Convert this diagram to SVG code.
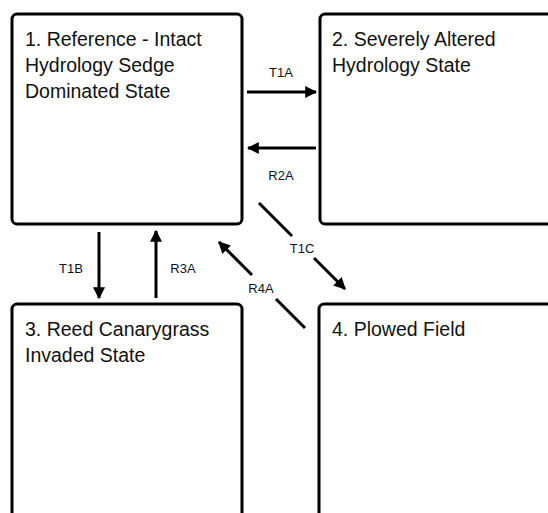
<svg xmlns="http://www.w3.org/2000/svg" width="548" height="513" viewBox="0 0 548 513">
<style>
.box{fill:#fff;stroke:#000;stroke-width:3}
.t{font-family:"Liberation Sans",Arial,sans-serif;font-size:19.5px;fill:#111}
.l{font-family:"Liberation Sans",Arial,sans-serif;font-size:13px;fill:#111;text-anchor:middle}
.c{fill:none;stroke:#000;stroke-width:3;marker-end:url(#ah)}
</style>
<defs>
<marker id="ah" viewBox="0 0 10 10" refX="9" refY="5" markerUnits="userSpaceOnUse" markerWidth="12" markerHeight="12" orient="auto">
<path d="M0,0 L10,5 L0,10 Z" fill="#000"/>
</marker>
</defs>
<rect width="548" height="513" fill="#fff"/>
<g id="node1">
<rect class="box" x="12" y="14" width="230" height="210" rx="5"/>
<text class="t" x="25" y="46">1. Reference - Intact</text>
<text class="t" x="25" y="72">Hydrology Sedge</text>
<text class="t" x="25" y="98">Dominated State</text>
</g>
<g id="node2">
<rect class="box" x="320" y="14" width="240" height="210" rx="5"/>
<text class="t" x="332" y="46">2. Severely Altered</text>
<text class="t" x="332" y="72">Hydrology State</text>
</g>
<g id="node3">
<rect class="box" x="12" y="304" width="230" height="230" rx="5"/>
<text class="t" x="25" y="336">3. Reed Canarygrass</text>
<text class="t" x="25" y="362">Invaded State</text>
</g>
<g id="node4">
<rect class="box" x="319" y="304" width="240" height="230" rx="5"/>
<text class="t" x="332" y="336">4. Plowed Field</text>
</g>
<g id="connectors">
<path class="c" d="M247,92 L316,92"/>
<text class="l" x="281" y="77">T1A</text>
<path class="c" d="M316,148 L248,148"/>
<text class="l" x="281" y="180">R2A</text>
<path class="c" d="M99,232 L99,298"/>
<text class="l" x="71" y="273">T1B</text>
<path class="c" d="M156,298 L156,231"/>
<text class="l" x="183" y="273">R3A</text>
<path class="c" d="M259,203 L292,236 M314,258 L345,289"/>
<text class="l" x="302" y="253">T1C</text>
<path class="c" d="M305,328 L276,299 M252,275 L219,242"/>
<text class="l" x="261" y="293">R4A</text>
</g>
</svg>
